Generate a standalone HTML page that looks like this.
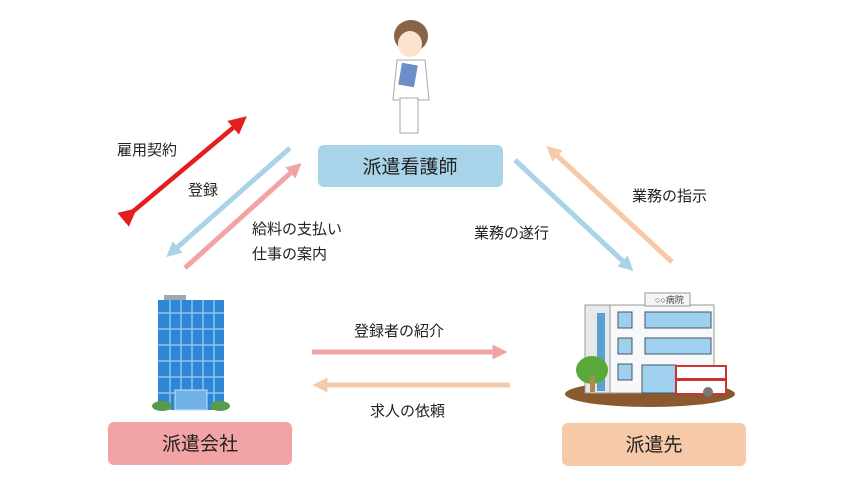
<!DOCTYPE html>
<html><head><meta charset="utf-8"><style>
body{margin:0;background:#fff;}
svg{display:block;font-family:"Liberation Sans","Noto Sans CJK JP",sans-serif;}
</style></head><body>
<svg width="849" height="480" viewBox="0 0 849 480" xmlns="http://www.w3.org/2000/svg">
<defs>
<marker id="mr" markerWidth="4" markerHeight="4" refX="2" refY="2" orient="auto" markerUnits="strokeWidth"><path d="M0,0 L4,2 L0,4 z" fill="#e51d1d"/></marker>
<marker id="mb" markerWidth="3" markerHeight="3" refX="1.5" refY="1.5" orient="auto" markerUnits="strokeWidth"><path d="M0,0 L3,1.5 L0,3 z" fill="#a9d3e8"/></marker>
<marker id="mp" markerWidth="3" markerHeight="3" refX="1.5" refY="1.5" orient="auto" markerUnits="strokeWidth"><path d="M0,0 L3,1.5 L0,3 z" fill="#f2a3a6"/></marker>
<marker id="mo" markerWidth="3" markerHeight="3" refX="1.5" refY="1.5" orient="auto" markerUnits="strokeWidth"><path d="M0,0 L3,1.5 L0,3 z" fill="#f6c9a8"/></marker>
</defs>
<!-- nurse -->
<ellipse cx="411" cy="36" rx="17" ry="16" fill="#8a6347"/>
<ellipse cx="410" cy="44" rx="12" ry="13" fill="#fbe3d0"/>
<path d="M397,60 h28 l4,40 h-36 z" fill="#fff" stroke="#aaa"/>
<rect x="400" y="64" width="16" height="22" fill="#6d8fc7" transform="rotate(10 408 75)"/>
<rect x="400" y="98" width="18" height="35" fill="#fff" stroke="#aaa"/>
<!-- red arrow -->
<line x1="130" y1="214" x2="240" y2="122" stroke="#e51d1d" stroke-width="4.5" marker-start="url(#mr)" marker-end="url(#mr)"/>
<!-- left pair -->
<line x1="290" y1="148" x2="172" y2="252" stroke="#a9d3e8" stroke-width="5" marker-end="url(#mb)"/>
<line x1="185" y1="268" x2="296" y2="168" stroke="#f2a3a6" stroke-width="5" marker-end="url(#mp)"/>
<!-- right pair -->
<line x1="515" y1="160" x2="628" y2="266" stroke="#a9d3e8" stroke-width="5" marker-end="url(#mb)"/>
<line x1="672" y1="262" x2="552" y2="151" stroke="#f6c9a8" stroke-width="5" marker-end="url(#mo)"/>
<!-- bottom -->
<line x1="312" y1="352" x2="500" y2="352" stroke="#f2a3a6" stroke-width="5" marker-end="url(#mp)"/>
<line x1="510" y1="385" x2="320" y2="385" stroke="#f6c9a8" stroke-width="5" marker-end="url(#mo)"/>
<!-- boxes -->
<rect x="318" y="145" width="185" height="42" rx="6" fill="#a9d3e8"/>
<text x="410" y="173" font-size="19" text-anchor="middle" fill="#222">派遣看護師</text>
<rect x="108" y="422" width="184" height="43" rx="6" fill="#f2a3a6"/>
<text x="200" y="450" font-size="19" text-anchor="middle" fill="#222">派遣会社</text>
<rect x="562" y="423" width="184" height="43" rx="6" fill="#f6c9a8"/>
<text x="654" y="451" font-size="19" text-anchor="middle" fill="#222">派遣先</text>
<!-- labels -->
<g font-size="15" fill="#222">
<text x="117" y="155">雇用契約</text>
<text x="188" y="195">登録</text>
<text x="252" y="234">給料の支払い</text>
<text x="252" y="259">仕事の案内</text>
<text x="474" y="238">業務の遂行</text>
<text x="632" y="201">業務の指示</text>
<text x="354" y="336">登録者の紹介</text>
<text x="370" y="416">求人の依頼</text>
</g>
<!-- office building -->
<rect x="164" y="295" width="22" height="5" fill="#9aa9b8"/>
<rect x="158" y="300" width="66" height="110" fill="#2f86d4"/>
<g stroke="#8cc2ee" stroke-width="1.5">
<line x1="158" y1="313" x2="224" y2="313"/><line x1="158" y1="329" x2="224" y2="329"/><line x1="158" y1="345" x2="224" y2="345"/><line x1="158" y1="361" x2="224" y2="361"/><line x1="158" y1="377" x2="224" y2="377"/><line x1="158" y1="393" x2="224" y2="393"/>
<line x1="170" y1="300" x2="170" y2="410"/><line x1="181" y1="300" x2="181" y2="410"/><line x1="192" y1="300" x2="192" y2="410"/><line x1="203" y1="300" x2="203" y2="410"/><line x1="214" y1="300" x2="214" y2="410"/>
</g>
<rect x="175" y="390" width="32" height="20" fill="#6fb3e8" stroke="#cde" />
<ellipse cx="162" cy="406" rx="10" ry="5" fill="#5a9a48"/>
<ellipse cx="220" cy="406" rx="10" ry="5" fill="#5a9a48"/>
<!-- hospital -->
<ellipse cx="650" cy="394" rx="85" ry="13" fill="#8a5a2e"/>
<rect x="585" y="305" width="25" height="88" fill="#e6e9ec" stroke="#999"/>
<rect x="597" y="313" width="8" height="78" fill="#5aa0cc"/>
<rect x="610" y="305" width="104" height="88" fill="#f7f8f9" stroke="#999"/>
<rect x="645" y="293" width="45" height="13" fill="#f5f5f5" stroke="#999"/>
<text x="655" y="303" font-size="9" fill="#444">○○病院</text>
<g fill="#9fd0ee" stroke="#456">
<rect x="618" y="312" width="14" height="16"/><rect x="618" y="338" width="14" height="16"/><rect x="618" y="364" width="14" height="16"/>
<rect x="645" y="312" width="66" height="16"/><rect x="645" y="338" width="66" height="16"/>
<rect x="642" y="365" width="34" height="28"/>
</g>
<rect x="676" y="366" width="50" height="28" fill="#fff" stroke="#c33" stroke-width="2"/>
<rect x="676" y="378" width="50" height="3" fill="#c33"/>
<circle cx="708" cy="392" r="5" fill="#777"/>
<ellipse cx="592" cy="370" rx="16" ry="14" fill="#5aa83a"/>
<rect x="590" y="376" width="5" height="16" fill="#b08850"/>
</svg>
</body></html>
